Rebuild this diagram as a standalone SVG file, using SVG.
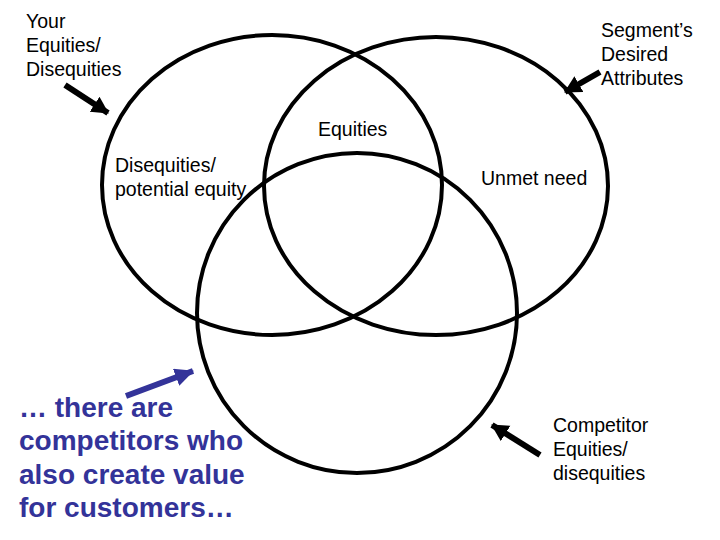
<svg xmlns="http://www.w3.org/2000/svg" width="720" height="540" viewBox="0 0 720 540">
<defs>
<style>
.ring{fill:none;stroke:#000;stroke-width:4}
.t{font-family:"Liberation Sans",Arial,sans-serif;font-size:19.5px;fill:#000}
.b{font-family:"Liberation Sans",Arial,sans-serif;font-size:28px;font-weight:bold;fill:#333399}
.arr{stroke:#000;stroke-width:6;fill:none}
.barr{stroke:#333399;stroke-width:6;fill:none}
</style>
<marker id="ah" markerUnits="userSpaceOnUse" markerWidth="20" markerHeight="20" refX="16" refY="9" orient="auto">
<path d="M0,0 L17,9 L0,18 Z" fill="#000"/>
</marker>
<marker id="bh" markerUnits="userSpaceOnUse" markerWidth="22" markerHeight="20" refX="18" refY="9" orient="auto">
<path d="M0,0 L19,9 L0,18 Z" fill="#333399"/>
</marker>
</defs>
<rect width="720" height="540" fill="#fff"/>
<g id="circle-your"><ellipse class="ring" cx="272" cy="185" rx="170" ry="150"/></g>
<g id="circle-segment"><ellipse class="ring" cx="436" cy="186" rx="172" ry="149"/></g>
<g id="circle-competitor"><ellipse class="ring" cx="357" cy="313" rx="160" ry="160"/></g>
<g id="label-your"><text class="t" x="26" y="28">Your</text><text class="t" x="26" y="52">Equities/</text><text class="t" x="26" y="76">Disequities</text></g>
<g id="label-segment"><text class="t" x="601" y="37">Segment’s</text><text class="t" x="601" y="61">Desired</text><text class="t" x="601" y="85">Attributes</text></g>
<g id="label-equities"><text class="t" x="318" y="136">Equities</text></g>
<g id="label-disequities"><text class="t" x="115" y="172">Disequities/</text><text class="t" x="115" y="196">potential equity</text></g>
<g id="label-unmet"><text class="t" x="481" y="185">Unmet need</text></g>
<g id="label-competitor"><text class="t" x="553" y="432">Competitor</text><text class="t" x="553" y="456">Equities/</text><text class="t" x="553" y="480">disequities</text></g>
<g id="label-note"><text class="b" x="19" y="417">… there are</text><text class="b" x="19" y="450">competitors who</text><text class="b" x="19" y="484">also create value</text><text class="b" x="19" y="517">for customers…</text></g>
<g id="connectors">
<line class="arr" x1="65" y1="85" x2="108" y2="113" marker-end="url(#ah)"/>
<line class="arr" x1="600" y1="72" x2="565" y2="92" marker-end="url(#ah)"/>
<line class="barr" x1="126" y1="396" x2="193" y2="371" marker-end="url(#bh)"/>
<line class="arr" x1="540" y1="455" x2="492" y2="425" marker-end="url(#ah)"/>
</g>
</svg>
